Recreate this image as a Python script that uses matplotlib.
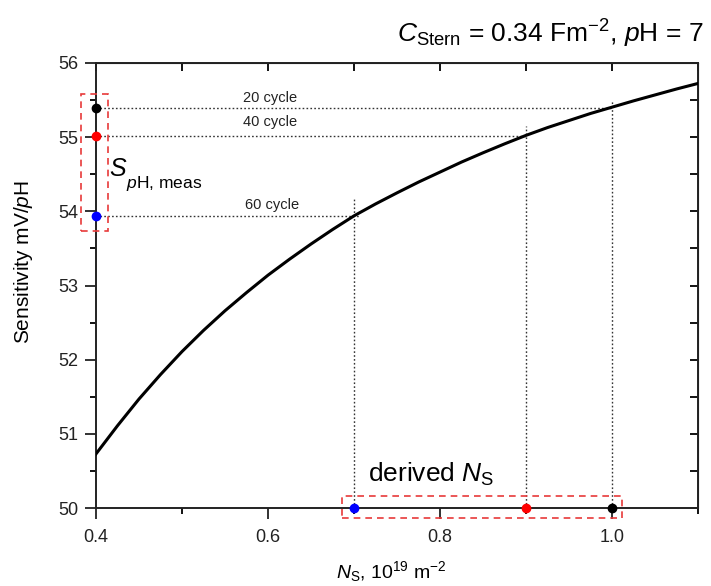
import matplotlib
matplotlib.use("Agg")
import matplotlib.pyplot as plt
from matplotlib.ticker import MultipleLocator
from matplotlib.patches import Rectangle

plt.rcParams['font.family'] = ['Liberation Sans', 'DejaVu Sans']
plt.rcParams['mathtext.fontset'] = 'custom'
plt.rcParams['mathtext.rm'] = 'Liberation Sans'
plt.rcParams['mathtext.it'] = 'Liberation Sans:italic'

# curve data
ns = [0.400, 0.425, 0.450, 0.475, 0.500, 0.525, 0.550, 0.575, 0.600, 0.625, 0.650, 0.675,
      0.700, 0.725, 0.750, 0.775, 0.800, 0.825, 0.850, 0.875, 0.900, 0.925, 0.950, 0.975,
      1.000, 1.025, 1.050, 1.075, 1.100]
sens = [50.73, 51.11, 51.47, 51.80, 52.11, 52.395, 52.66, 52.905, 53.14, 53.355, 53.56, 53.755,
        53.94, 54.10, 54.25, 54.395, 54.53, 54.665, 54.79, 54.91, 55.025, 55.13, 55.225, 55.32,
        55.405, 55.49, 55.57, 55.65, 55.725]

# measured points
cycles = ['20 cycle', '40 cycle', '60 cycle']
s_meas = [55.39, 55.02, 53.94]
ns_derived = [1.0, 0.9, 0.7]
colors = ['black', 'red', 'blue']

fig = plt.figure(figsize=(7.11, 5.86), dpi=100)
ax = fig.add_axes([0.135, 0.133, 0.847, 0.7595])

ax.plot(ns, sens, color='black', lw=2.2, zorder=3)

xmin, xmax, ymin, ymax = 0.4, 1.1, 50, 56
ax.set_xlim(xmin, xmax)
ax.set_ylim(ymin, ymax)

# dotted guide lines
vtop = [55.49, 55.15, 54.20]
hend = [1.0, 0.9, 0.707]
for s, n, c, vt, he in zip(s_meas, ns_derived, colors, vtop, hend):
    ax.plot([xmin, he], [s, s], ls=(0, (1.2, 1.6)), color='#333333', lw=1.0, zorder=2)
    ax.plot([n, n], [ymin, vt], ls=(0, (1.2, 1.6)), color='#333333', lw=1.0, zorder=2)
    ax.plot([xmin], [s], 'o', color=c, ms=6, clip_on=False, zorder=5)
    ax.plot([n], [ymin], 'o', color=c, ms=6, clip_on=False, zorder=5)

# cycle labels
label_x = [0.602, 0.602, 0.605]
label_y = [55.53, 55.20, 54.09]
for lab, lx, ly in zip(cycles, label_x, label_y):
    ax.text(lx, ly, lab, ha='center', va='center', fontsize=10.5, color='#222222')

# dashed boxes
ax.add_patch(Rectangle((0.383, 53.73), 0.0304, 1.85, fill=False, ec='#e8393a',
                       ls=(0, (4, 3)), lw=1.2, clip_on=False, zorder=4))
ax.add_patch(Rectangle((0.686, 49.86), 0.325, 0.30, fill=False, ec='#e8393a',
                       ls=(0, (4, 3)), lw=1.2, clip_on=False, zorder=4))

ax.text(0.4150, 54.57, r'$S$', fontsize=18, ha='left', va='center')
ax.text(0.4345, 54.37, r'$p$H, meas', fontsize=12.5, ha='left', va='center')
ax.text(0.716, 50.46, r'derived $N_{\mathrm{S}}$', fontsize=19, ha='left', va='center')

ax.set_xticks([0.4, 0.6, 0.8, 1.0])
ax.set_xticklabels(['0.4', '0.6', '0.8', '1.0'])
ax.xaxis.set_minor_locator(MultipleLocator(0.1))
ax.yaxis.set_major_locator(MultipleLocator(1))
ax.yaxis.set_minor_locator(MultipleLocator(0.5))
ax.tick_params(which='major', direction='out', length=8, width=1.3, labelsize=13,
               colors='#222222')
ax.tick_params(axis='x', which='major', pad=7)
ax.tick_params(axis='y', which='major', pad=4.5)
ax.tick_params(which='minor', direction='out', length=4, width=1.3)
for sp in ax.spines.values():
    sp.set_linewidth(1.4)
    sp.set_color('#222222')

top = ax.secondary_xaxis('top')
top.xaxis.set_major_locator(MultipleLocator(0.1))
top.tick_params(direction='in', length=6, width=1.3, labeltop=False)
right = ax.secondary_yaxis('right')
right.yaxis.set_major_locator(MultipleLocator(0.5))
right.tick_params(direction='in', length=6, width=1.3, labelright=False)

ax.set_ylabel(r'Sensitivity mV/$p$H', fontsize=15, va='center')
ax.yaxis.set_label_coords(-0.121, 0.553)
ax.set_xlabel(r'$N_{\mathrm{S}}$, 10$^{19}$ m$^{-2}$', fontsize=14, va='center')
ax.xaxis.set_label_coords(0.49, -0.143)

fig.text(0.989, 0.928, r'$C_{\mathrm{Stern}}$ = 0.34 Fm$^{-2}$, $p$H = 7',
         ha='right', va='baseline', fontsize=19)

fig.savefig('out.png', dpi=100)
